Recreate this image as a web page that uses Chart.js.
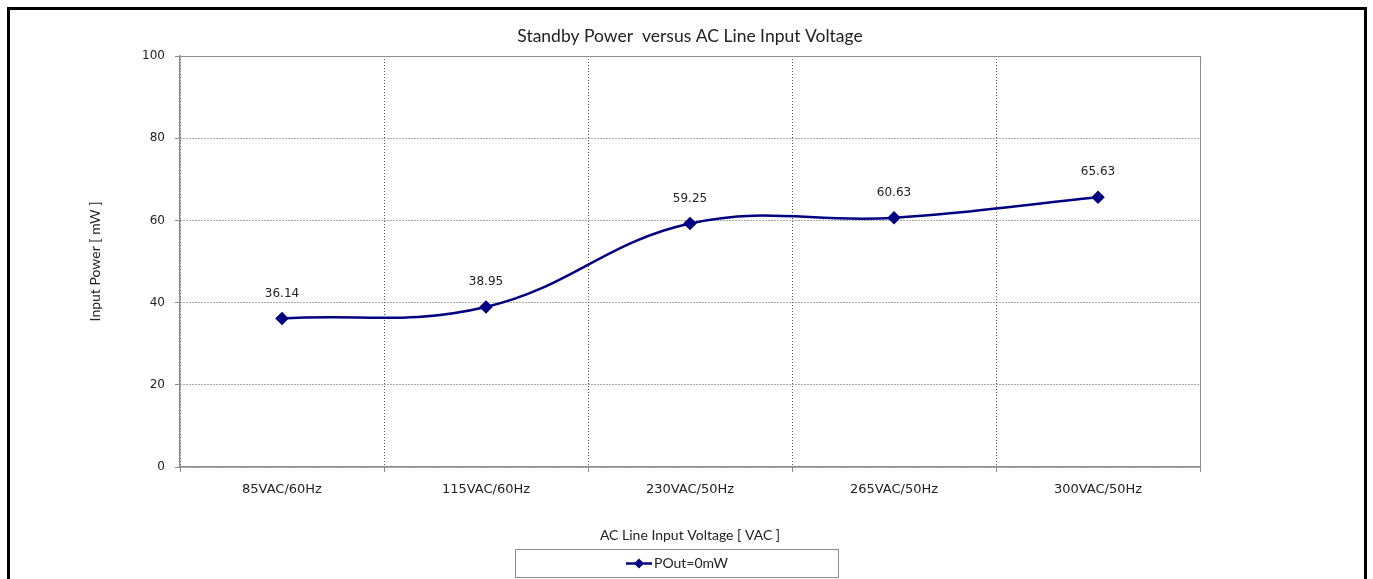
<!DOCTYPE html>
<html>
<head>
<meta charset="utf-8">
<script src="https://cdn.jsdelivr.net/npm/chart.js@4.4.1/dist/chart.umd.min.js"></script>
<style>
  html, body { margin: 0; padding: 0; background: #fff; }
</style>
</head>
<body>
<canvas id="standbyChart" width="1373" height="579"></canvas>
<script>
const voltages = ['85VAC/60Hz', '115VAC/60Hz', '230VAC/50Hz', '265VAC/50Hz', '300VAC/50Hz']
const inputPower = [36.14, 38.95, 59.25, 60.63, 65.63]
const seriesName = 'POut=0mW'
const chartTitle = 'Standby Power  versus AC Line Input Voltage'
const yMin = 0
const yMax = 100
const yStep = 20

const navy = '#000080'
const axisGray = '#8c8c8c'
const gridGray = '#555'

// title, frame lines, outer border, value labels and the boxed legend
const extras = {
  id: 'extras',
  afterDatasetsDraw(chart) {
    const ctx = chart.ctx
    const meta = chart.getDatasetMeta(0)
    ctx.save()
    ctx.font = '12px "DejaVu Sans"'
    ctx.fillStyle = '#222'
    ctx.textAlign = 'center'
    ctx.textBaseline = 'middle'
    meta.data.forEach((pt, i) => {
      ctx.fillText(inputPower[i].toFixed(2), pt.x, pt.y - 25)
    })
    ctx.restore()
  },
  afterDraw(chart) {
    const ctx = chart.ctx
    const a = chart.chartArea
    ctx.save()
    // title centred over the plot
    ctx.fillStyle = '#222'
    ctx.font = '17.5px Lato'
    ctx.textAlign = 'center'
    ctx.textBaseline = 'middle'
    ctx.fillText(chartTitle, (a.left + a.right) / 2, 36)

    // top and right edges of the plot
    ctx.strokeStyle = axisGray
    ctx.lineWidth = 1
    ctx.beginPath()
    ctx.moveTo(a.left, a.top + 0.5)
    ctx.lineTo(a.right + 0.5, a.top + 0.5)
    ctx.lineTo(a.right + 0.5, a.bottom)
    ctx.stroke()

    // outer border
    ctx.strokeStyle = '#000'
    ctx.lineWidth = 3
    ctx.strokeRect(8.5, 8.5, 1357, 620)

    // legend
    const lx = 515.5, ly = 549.5, lw = 323, lh = 28
    ctx.strokeStyle = axisGray
    ctx.lineWidth = 1
    ctx.strokeRect(lx, ly, lw, lh)
    const cy = ly + lh / 2
    ctx.strokeStyle = navy
    ctx.lineWidth = 2.5
    ctx.beginPath()
    ctx.moveTo(626, cy)
    ctx.lineTo(652, cy)
    ctx.stroke()
    ctx.fillStyle = navy
    ctx.beginPath()
    ctx.moveTo(639, cy - 5)
    ctx.lineTo(644, cy)
    ctx.lineTo(639, cy + 5)
    ctx.lineTo(634, cy)
    ctx.closePath()
    ctx.fill()
    ctx.fillStyle = '#222'
    ctx.font = '14px Lato'
    ctx.textAlign = 'left'
    ctx.textBaseline = 'middle'
    ctx.fillText(seriesName, 654, cy)
    ctx.restore()
  }
}

const canvas = document.getElementById('standbyChart')
const chart = new Chart(canvas, {
  type: 'line',
  data: {
    labels: voltages,
    datasets: [{
      label: seriesName,
      data: inputPower,
      borderColor: navy,
      backgroundColor: navy,
      borderWidth: 2.5,
      tension: 0.4,
      pointStyle: 'rectRot',
      pointRadius: 5,
      pointHoverRadius: 5,
      pointBackgroundColor: navy,
      pointBorderColor: navy,
      fill: false
    }]
  },
  options: {
    responsive: false,
    animation: false,
    layout: {
      padding: { left: 83, right: 173, top: 56, bottom: 31 }
    },
    scales: {
      x: {
        offset: true,
        grid: {
          offset: true,
          color: gridGray,
          lineWidth: 1,
          tickLength: 5,
          tickColor: axisGray,
          tickBorderDash: []
        },
        border: { display: true, color: axisGray, width: 1.5, dash: [1, 2] },
        ticks: {
          color: '#222',
          font: { family: '"DejaVu Sans"', size: 13 },
          padding: 10,
          maxRotation: 0
        },
        title: {
          display: true,
          text: 'AC Line Input Voltage [ VAC ]',
          color: '#222',
          font: { family: 'Lato', size: 14 },
          padding: { top: 0, bottom: 4 }
        },
        afterFit(scale) { scale.height = 81 }
      },
      y: {
        min: yMin,
        max: yMax,
        grid: {
          color: gridGray,
          lineWidth: 1,
          tickLength: 5,
          tickColor: axisGray,
          tickBorderDash: []
        },
        border: { display: true, color: axisGray, width: 1.5, dash: [1, 2] },
        ticks: {
          stepSize: yStep,
          color: '#222',
          font: { family: '"DejaVu Sans"', size: 12 },
          padding: 10
        },
        title: {
          display: true,
          text: 'Input Power [ mW ]',
          color: '#222',
          font: { family: 'Lato', size: 14 },
          padding: { top: 4, bottom: 0 }
        },
        afterFit(scale) { scale.width = 97 }
      }
    },
    plugins: {
      legend: { display: false },
      tooltip: { enabled: false },
      title: { display: false }
    }
  },
  plugins: [extras]
})
</script>
</body>
</html>
